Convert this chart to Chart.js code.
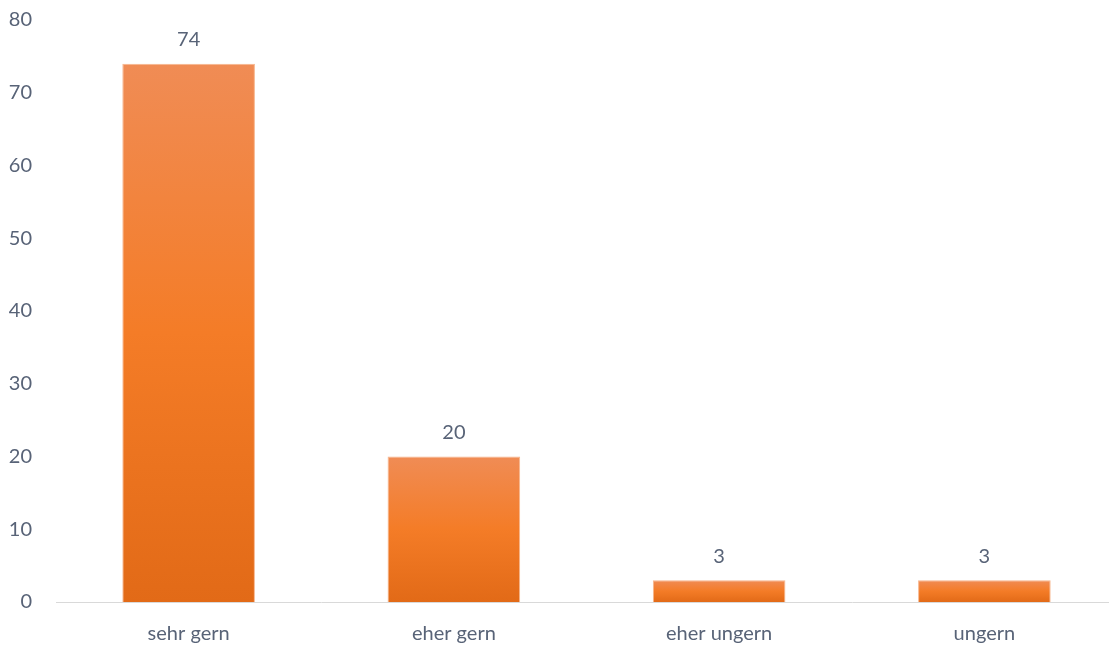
<!DOCTYPE html>
<html>
<head>
<meta charset="utf-8">
<script src="https://cdn.jsdelivr.net/npm/chart.js@4"></script>
<style>
  html, body { margin: 0; padding: 0; background: #fff; overflow: hidden; }
  #wrap { width: 1117px; height: 648px; position: relative; }
</style>
</head>
<body>
<div id="wrap"><canvas id="chart"></canvas></div>
<script>
// --- data ---
const categories = ["sehr gern", "eher gern", "eher ungern", "ungern"];
const values = [74, 20, 3, 3];
const yTicks = [0, 10, 20, 30, 40, 50, 60, 70, 80];

const textColor = "#586377";
const fontFamily = "Lato, 'Open Sans', sans-serif";

// vertical gradient for each bar, from its top down to the baseline
function barGradient(context) {
  const chart = context.chart;
  const { ctx, scales } = chart;
  if (!scales.y || context.dataIndex === undefined) return "#f47b20";
  const v = context.raw;
  const top = scales.y.getPixelForValue(v);
  const bottom = scales.y.getPixelForValue(0);
  if (!isFinite(top) || !isFinite(bottom) || top === bottom) return "#f47b20";
  const g = ctx.createLinearGradient(0, top, 0, bottom);
  g.addColorStop(0, "#f08c55");
  g.addColorStop(0.5, "#f47c27");
  g.addColorStop(1, "#e26a17");
  return g;
}

const valueLabels = {
  id: "valueLabels",
  afterDatasetsDraw(chart) {
    const { ctx } = chart;
    const meta = chart.getDatasetMeta(0);
    ctx.save();
    ctx.font = `20px ${fontFamily}`;
    ctx.fillStyle = textColor;
    ctx.textAlign = "center";
    ctx.textBaseline = "middle";
    meta.data.forEach((bar, i) => {
      ctx.fillText(values[i], bar.x, bar.y - 24);
    });
    ctx.restore();
  }
};

new Chart(document.getElementById("chart").getContext("2d"), {
  type: "bar",
  data: {
    labels: categories,
    datasets: [{
      data: values,
      backgroundColor: barGradient,
      borderColor: "#f7b58c",
      borderWidth: 1,
      borderSkipped: "bottom",
      categoryPercentage: 1,
      barPercentage: 0.5
    }]
  },
  options: {
    responsive: true,
    maintainAspectRatio: false,
    animation: false,
    layout: { padding: { top: 20, right: 0, left: 0, bottom: 0 } },
    plugins: {
      legend: { display: false },
      tooltip: { enabled: false }
    },
    scales: {
      x: {
        grid: { display: false },
        border: { display: true, color: "#d9d9d9", width: 1 },
        ticks: { color: textColor, font: { family: fontFamily, size: 20 }, padding: 12 },
        afterFit: s => { s.height = 46; }
      },
      y: {
        min: 0,
        max: 80,
        afterBuildTicks: s => { s.ticks = yTicks.map(v => ({ value: v })); },
        grid: { display: false },
        border: { display: false },
        ticks: { color: textColor, font: { family: fontFamily, size: 20 }, padding: 16 },
        afterFit: s => { s.width = 56; s.paddingTop = 0; s.paddingBottom = 0; }
      }
    }
  },
  plugins: [valueLabels]
});
</script>
</body>
</html>
